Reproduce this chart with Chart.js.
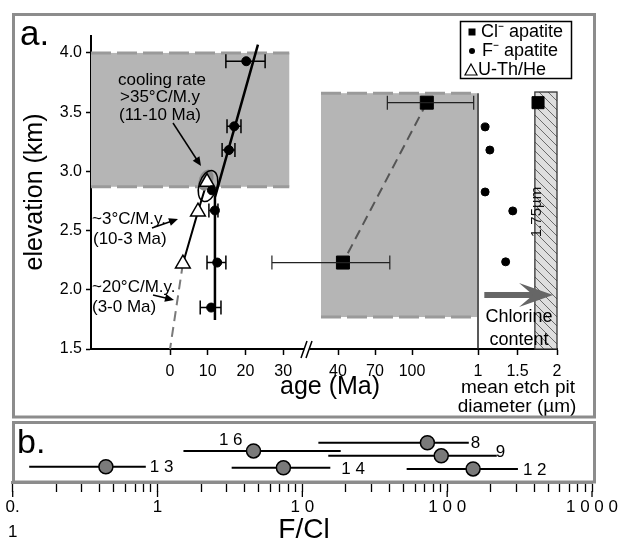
<!DOCTYPE html>
<html><head><meta charset="utf-8">
<script src="https://cdn.jsdelivr.net/npm/chart.js@4/dist/chart.umd.min.js"></script>
<style>
html,body{margin:0;padding:0;background:#fff;}
#wrap{position:relative;width:621px;height:539px;overflow:hidden;background:#fff;}
#ca{position:absolute;left:0;top:0;}
#cb{position:absolute;left:0;top:419px;}
</style></head>
<body><div id="wrap"><canvas id="ca" width="621" height="420"></canvas><canvas id="cb" width="621" height="120"></canvas></div>
<script>
// ================= DATA =================
// Panel a: tick values
const elevTicks    = [1.5, 2.0, 2.5, 3.0, 3.5, 4.0];
const ageTicksLow  = [0, 10, 20, 30];
const ageTicksHigh = [40, 70, 100];
const pitTicks     = [1, 1.5, 2];

// F- apatite fission-track ages (Ma) vs elevation (km)
const fAge   = [20.2, 17.0, 15.6, 11.1, 11.9, 12.5, 10.9];
const fElev  = [3.93, 3.38, 3.18, 2.84, 2.67, 2.23, 1.85];
const fAgeLo = [14.8, 15.1, 13.8, null, 10.3, 9.8, 8.0];
const fAgeHi = [25.2, 18.8, 17.2, null, 12.7, 14.8, 13.5];

// U-Th/He ages
const heAge  = [9.8, 7.4, 3.4];
const heElev = [2.91, 2.66, 2.22];

// Cl- apatite ages
const clAge   = [112, 44];
const clElev  = [3.58, 2.23];
const clAgeLo = [80, 27];
const clAgeHi = [150, 82];

// fitted / extrapolated lines
const fFitAge      = [23.3, 11.9, 11.9];
const fFitElev     = [4.07, 2.78, 1.745];
const heExtrapAge  = [3.4, 0];
const heExtrapElev = [2.22, 1.5];

// mean etch pit diameter (um)
const fPit      = [1.09, 1.15, 1.09, 1.44, 1.35];
const fPitElev  = [3.375, 3.18, 2.826, 2.666, 2.236];
const clPit     = [1.76];
const clPitElev = [3.58];

// shaded regions
const boxLowAge   = [-21, 31.6];
const boxLowElev  = [2.87, 4.0];
const boxHighAge  = [26.2, 152.7];
const boxHighElev = [1.77, 3.66];
const pitHatch     = [1.72, 2.0];
const pitHatchElev = [1.5, 3.67];

// Panel b: F/Cl ratios
const sampleId   = ['13', '16', '14', '8', '9', '12'];
const fclRatio   = [0.44, 4.6, 7.4, 73, 91, 151];
const fclLow     = [0.13, 1.51, 3.25, 12.9, 15.1, 52.5];
const fclHigh    = [0.83, 18.4, 15.6, 141, 220, 308];
const sampleLane = [0.28, 0.57, 0.26, 0.72, 0.48, 0.24];
const fclTicks   = [0.1,0.2,0.3,0.4,0.5,0.6,0.7,0.8,0.9,1,2,3,4,5,6,7,8,9,10,20,30,40,50,60,70,80,90,100,200,300,400,500,600,700,800,900,1000];
const fclLabels  = {0.1: ['0.', '1'], 1: '1', 10: '1 0', 100: '1 0 0', 1000: '1 0 0 0'};

// ================= SETUP =================
const FONT = "'Liberation Sans', Arial, Helvetica, sans-serif";
Chart.defaults.font.family = FONT;
Chart.defaults.color = '#000';
const f = (s) => s + 'px ' + FONT;
const pts = (xs, ys) => xs.map((x, i) => ({x: x, y: ys[i]}));
const setTicks = (list) => (scale) => { scale.ticks = list.map(v => ({value: v})); };

const axisLook = {
  grid: {display: true, drawOnChartArea: false, drawTicks: true, tickLength: 6, tickColor: '#000', tickWidth: 1.5},
  border: {display: true, color: '#000', width: 2}
};
function xAxis(weight, min, max, ticks, cb) {
  return Object.assign({
    type: 'linear', position: 'bottom', stack: 'age', stackWeight: weight, min: min, max: max,
    afterBuildTicks: setTicks(ticks),
    afterFit: (s) => { s.height = 71; },
    ticks: {font: {size: 16}, padding: 7, autoSkip: false, maxRotation: 0, callback: cb}
  }, axisLook);
}

function arrow(ctx, x0, y0, x1, y1) {
  const a = Math.atan2(y1 - y0, x1 - x0), L = 9, W = 4;
  ctx.beginPath(); ctx.moveTo(x0, y0); ctx.lineTo(x1 - L * Math.cos(a) * 0.6, y1 - L * Math.sin(a) * 0.6); ctx.stroke();
  ctx.beginPath();
  ctx.moveTo(x1, y1);
  ctx.lineTo(x1 - L * Math.cos(a) + W * Math.sin(a), y1 - L * Math.sin(a) - W * Math.cos(a));
  ctx.lineTo(x1 - L * Math.cos(a) - W * Math.sin(a), y1 - L * Math.sin(a) + W * Math.cos(a));
  ctx.closePath(); ctx.fill();
}
function errBar(ctx, xa, xb, y, cap) {
  ctx.beginPath();
  ctx.moveTo(xa, y); ctx.lineTo(xb, y);
  ctx.moveTo(xa, y - cap); ctx.lineTo(xa, y + cap);
  ctx.moveTo(xb, y - cap); ctx.lineTo(xb, y + cap);
  ctx.stroke();
}

const decorA = {
  id: 'decorA',
  beforeDatasetsDraw(chart) {
    const ctx = chart.ctx, s1 = chart.scales.x1, s2 = chart.scales.x2, s3 = chart.scales.x3, y = chart.scales.y;
    const ca = chart.chartArea;
    ctx.save();
    // shaded box, low-age section
    let L = Math.max(ca.left, s1.getPixelForValue(boxLowAge[0])), R = s1.getPixelForValue(boxLowAge[1]);
    let T = y.getPixelForValue(boxLowElev[1]), B = y.getPixelForValue(boxLowElev[0]);
    ctx.fillStyle = '#b5b5b5'; ctx.fillRect(L, T, R - L, B - T);
    ctx.strokeStyle = '#9a9a9a'; ctx.lineWidth = 3; ctx.setLineDash([20, 6]);
    ctx.beginPath(); ctx.moveTo(L, T); ctx.lineTo(R, T); ctx.moveTo(L, B); ctx.lineTo(R, B); ctx.stroke();
    // shaded box, high-age section
    L = s2.getPixelForValue(boxHighAge[0]); R = s2.getPixelForValue(boxHighAge[1]);
    T = y.getPixelForValue(boxHighElev[1]); B = y.getPixelForValue(boxHighElev[0]);
    ctx.fillStyle = '#b5b5b5'; ctx.fillRect(L, T, R - L, B - T);
    ctx.beginPath(); ctx.moveTo(L, T); ctx.lineTo(R, T); ctx.moveTo(L, B); ctx.lineTo(R, B); ctx.stroke();
    ctx.setLineDash([]);
    // etch-pit panel left line
    const pl = s3.getPixelForValue(1);
    ctx.strokeStyle = '#222'; ctx.lineWidth = 1.5;
    ctx.beginPath(); ctx.moveTo(pl, y.getPixelForValue(boxHighElev[1])); ctx.lineTo(pl, ca.bottom); ctx.stroke();
    // hatched 1.75 um region
    L = s3.getPixelForValue(pitHatch[0]); R = s3.getPixelForValue(pitHatch[1]);
    T = y.getPixelForValue(pitHatchElev[1]); B = y.getPixelForValue(pitHatchElev[0]);
    ctx.save();
    ctx.beginPath(); ctx.rect(L, T, R - L, B - T); ctx.clip();
    ctx.fillStyle = '#dedede'; ctx.fillRect(L, T, R - L, B - T);
    ctx.strokeStyle = '#6a6a6a'; ctx.lineWidth = 1;
    for (let yy = T - (R - L); yy < B; yy += 9) {
      ctx.beginPath(); ctx.moveTo(L, yy); ctx.lineTo(R, yy + (R - L)); ctx.stroke();
    }
    ctx.restore();
    ctx.strokeStyle = '#333'; ctx.lineWidth = 1.3; ctx.strokeRect(L, T, R - L, B - T);
    ctx.restore();
  },
  beforeDatasetDraw(chart, args) {
    if (args.index !== 1) return;
    const ctx = chart.ctx, s1 = chart.scales.x1, s2 = chart.scales.x2, y = chart.scales.y;
    const agePx = (v) => v <= s1.max ? s1.getPixelForValue(v) : s2.getPixelForValue(v);
    ctx.save();
    // ellipse around the 11-10 Ma cluster
    const ex = s1.getPixelForValue(heAge[0]), ey = y.getPixelForValue(heElev[0]);
    ctx.fillStyle = '#8a8a8a';
    ctx.beginPath(); ctx.ellipse(ex - 1, ey - 2, 7, 11, 0.35, 0, Math.PI * 2); ctx.fill();
    ctx.strokeStyle = '#000'; ctx.lineWidth = 1.5;
    ctx.beginPath(); ctx.ellipse(ex + 1, ey + 4, 9, 16, 0.3, 0, Math.PI * 2); ctx.stroke();
    // error bars
    ctx.lineWidth = 1.5; ctx.strokeStyle = '#000';
    fAge.forEach((a, i) => {
      if (fAgeLo[i] == null) return;
      errBar(ctx, agePx(fAgeLo[i]), agePx(fAgeHi[i]), y.getPixelForValue(fElev[i]), 7);
    });
    ctx.lineWidth = 1.2; ctx.strokeStyle = '#222';
    clAge.forEach((a, i) => {
      errBar(ctx, agePx(clAgeLo[i]), agePx(clAgeHi[i]), y.getPixelForValue(clElev[i]), 7);
    });
    ctx.restore();
  },
  afterDraw(chart) {
    const ctx = chart.ctx, s1 = chart.scales.x1, s3 = chart.scales.x3, y = chart.scales.y, ca = chart.chartArea;
    ctx.save();
    // axis break marks
    const bx = s1.right, by = ca.bottom;
    ctx.fillStyle = '#fff';
    ctx.beginPath(); ctx.moveTo(bx - 4, by + 4); ctx.lineTo(bx + 1, by + 4); ctx.lineTo(bx + 4, by - 4); ctx.lineTo(bx - 1, by - 4); ctx.closePath(); ctx.fill();
    ctx.strokeStyle = '#000'; ctx.lineWidth = 1.5;
    ctx.beginPath();
    ctx.moveTo(bx - 6, by + 9); ctx.lineTo(bx, by - 8);
    ctx.moveTo(bx - 1, by + 9); ctx.lineTo(bx + 5, by - 8);
    ctx.stroke();

    // panel label
    ctx.fillStyle = '#000'; ctx.textAlign = 'left'; ctx.textBaseline = 'alphabetic';
    ctx.font = f(35); ctx.fillText('a.', 20, 45);

    // annotations
    ctx.font = f(17); ctx.textBaseline = 'middle';
    ctx.fillText('cooling rate', 118, 80);
    ctx.fillText('>35°C/M.y', 120, 97);
    ctx.fillText('(11-10 Ma)', 119, 115);
    ctx.fillText('~3°C/M.y.', 92, 219);
    ctx.fillText('(10-3 Ma)', 93, 239);
    ctx.fillText('~20°C/M.y.', 92, 287);
    ctx.fillText('(3-0 Ma)', 92, 307);
    ctx.strokeStyle = '#000'; ctx.fillStyle = '#000'; ctx.lineWidth = 1.5;
    arrow(ctx, 173, 123, 201, 166);
    arrow(ctx, 152, 228, 178, 219);
    arrow(ctx, 153, 295, 174, 300);

    // axis titles
    ctx.textAlign = 'center'; ctx.textBaseline = 'middle';
    ctx.font = f(25); ctx.fillText('age (Ma)', 330, 387);
    ctx.font = f(19);
    ctx.fillText('mean etch pit', 518, 388);
    ctx.fillText('diameter (µm)', 517, 407);
    ctx.save(); ctx.translate(35, 192); ctx.rotate(-Math.PI / 2);
    ctx.font = f(25); ctx.fillText('elevation (km)', 0, 0); ctx.restore();

    // 1.75 um label
    ctx.save(); ctx.translate(537, 212); ctx.rotate(-Math.PI / 2);
    ctx.font = f(15); ctx.fillStyle = '#111'; ctx.fillText('1.75µm', 0, 0); ctx.restore();

    // chlorine content arrow
    const ay = y.getPixelForValue(1.956);
    const ax0 = s3.getPixelForValue(1.08), ax1 = s3.getPixelForValue(1.95);
    ctx.fillStyle = '#666';
    ctx.fillRect(ax0, ay - 3, (ax1 - 18) - ax0, 6);
    ctx.beginPath();
    ctx.moveTo(ax1 - 34, ay - 12); ctx.lineTo(ax1, ay); ctx.lineTo(ax1 - 34, ay + 12); ctx.lineTo(ax1 - 20, ay);
    ctx.closePath(); ctx.fill();
    ctx.fillStyle = '#000'; ctx.font = f(18);
    ctx.fillText('Chlorine', 519, 317);
    ctx.fillText('content', 519, 340);

    // legend
    ctx.strokeStyle = '#000'; ctx.lineWidth = 1.5;
    ctx.strokeRect(460.5, 21.5, 111, 57);
    ctx.fillStyle = '#000';
    ctx.fillRect(468.5, 28.5, 7, 7);
    ctx.beginPath(); ctx.arc(472, 51, 3, 0, Math.PI * 2); ctx.fill();
    ctx.lineWidth = 1.2;
    ctx.beginPath(); ctx.moveTo(471, 64); ctx.lineTo(477, 75); ctx.lineTo(465, 75); ctx.closePath(); ctx.stroke();
    ctx.textAlign = 'left'; ctx.font = f(18);
    ctx.fillText('Cl⁻ apatite', 481, 32);
    ctx.fillText('F⁻ apatite', 482, 51);
    ctx.fillText('U-Th/He', 478, 70);

    // frame
    ctx.strokeStyle = '#8c8c8c'; ctx.lineWidth = 3;
    ctx.strokeRect(13.5, 14.5, 581, 402.5);
    ctx.restore();
  }
};

new Chart(document.getElementById('ca'), {
  type: 'scatter',
  data: {
    datasets: [
      {label: 'F⁻ apatite', data: pts(fAge, fElev), xAxisID: 'x1', pointStyle: 'circle', pointRadius: 4.5,
       backgroundColor: '#000', borderColor: '#000', borderWidth: 1, order: 1},
      {label: 'U-Th/He', data: pts(heAge, heElev), xAxisID: 'x1', pointStyle: 'triangle', pointRadius: 8.5,
       backgroundColor: '#fff', borderColor: '#000', borderWidth: 1.5, order: 2},
      {label: 'Cl⁻ apatite', data: pts(clAge, clElev), xAxisID: 'x2', pointStyle: 'rect', pointRadius: 9.2,
       backgroundColor: '#000', borderColor: '#000', borderWidth: 1, order: 3},
      {label: 'F fit', data: pts(fFitAge, fFitElev), xAxisID: 'x1', showLine: true, pointRadius: 0,
       borderColor: '#000', borderWidth: 2.5, order: 5},
      {label: 'He fit', data: pts(heAge, heElev), xAxisID: 'x1', showLine: true, pointRadius: 0,
       borderColor: '#000', borderWidth: 2, order: 5},
      {label: 'He extrapolation', data: pts(heExtrapAge, heExtrapElev), xAxisID: 'x1', showLine: true, pointRadius: 0,
       borderColor: '#7a7a7a', borderWidth: 2, borderDash: [10, 6], order: 5},
      {label: 'Cl trend', data: pts(clAge, clElev), xAxisID: 'x2', showLine: true, pointRadius: 0,
       borderColor: '#555', borderWidth: 2, borderDash: [10, 6], order: 5},
      {label: 'F⁻ etch pit', data: pts(fPit, fPitElev), xAxisID: 'x3', pointStyle: 'circle', pointRadius: 4,
       backgroundColor: '#000', borderColor: '#000', order: 3},
      {label: 'Cl⁻ etch pit', data: pts(clPit, clPitElev), xAxisID: 'x3', pointStyle: 'rect', pointRadius: 8.5,
       backgroundColor: '#000', borderColor: '#000', order: 3}
    ]
  },
  options: {
    responsive: false, animation: false, events: [],
    layout: {padding: {top: 36, right: 64, left: 0, bottom: 0}},
    plugins: {legend: {display: false}, tooltip: {enabled: false}},
    scales: {
      x1: xAxis(216, -20.95, 36.3, ageTicksLow, (v) => String(v)),
      x2: xAxis(171, 14.86, 153.5, ageTicksHigh, (v) => String(v)),
      x3: xAxis(79, 1, 2, pitTicks, (v) => String(v)),
      y: Object.assign({
        type: 'linear', position: 'left', min: 1.5, max: 4.143,
        afterBuildTicks: setTicks(elevTicks),
        afterFit: (s) => { s.width = 91; },
        ticks: {font: {size: 16}, padding: 4, callback: (v) => Number(v).toFixed(1)}
      }, {grid: Object.assign({}, axisLook.grid, {tickLength: 5}), border: axisLook.border})
    }
  },
  plugins: [decorA]
});

// ================= PANEL b =================
const decorB = {
  id: 'decorB',
  beforeDatasetsDraw(chart) {
    const ctx = chart.ctx, x = chart.scales.x, y = chart.scales.y;
    ctx.save(); ctx.strokeStyle = '#000'; ctx.lineWidth = 2;
    fclRatio.forEach((v, i) => {
      const yy = y.getPixelForValue(sampleLane[i]);
      ctx.beginPath(); ctx.moveTo(x.getPixelForValue(fclLow[i]), yy); ctx.lineTo(x.getPixelForValue(fclHigh[i]), yy); ctx.stroke();
    });
    ctx.restore();
  },
  afterDraw(chart) {
    const ctx = chart.ctx, x = chart.scales.x, y = chart.scales.y, ca = chart.chartArea;
    ctx.save();
    // longer ticks at decades
    ctx.strokeStyle = '#000'; ctx.lineWidth = 1.3;
    [0.1, 1, 10, 100, 1000].forEach(v => {
      const px = x.getPixelForValue(v);
      ctx.beginPath(); ctx.moveTo(px, ca.bottom + 9); ctx.lineTo(px, ca.bottom + 15); ctx.stroke();
    });
    // sample labels
    ctx.fillStyle = '#000'; ctx.font = f(17); ctx.textBaseline = 'middle';
    sampleId.forEach((id, i) => {
      const txt = id.split('').join(' ');
      const yy = y.getPixelForValue(sampleLane[i]);
      if (id === '16') {
        ctx.textAlign = 'right';
        ctx.fillText(txt, x.getPixelForValue(fclRatio[i]) - 11, yy - 11);
      } else {
        ctx.textAlign = 'left';
        const gap = {'13': 4, '14': 11, '8': 2, '9': -1, '12': 5}[id];
        ctx.fillText(txt, x.getPixelForValue(fclHigh[i]) + gap, yy - (id === '9' ? 4 : -1));
      }
    });
    // panel label and axis title
    ctx.textAlign = 'left'; ctx.textBaseline = 'alphabetic';
    ctx.font = f(34); ctx.fillText('b.', 17, 34);
    ctx.textAlign = 'center'; ctx.font = f(28); ctx.fillText('F/Cl', 304, 119);
    // frame
    ctx.strokeStyle = '#8c8c8c'; ctx.lineWidth = 3;
    ctx.strokeRect(13.5, 3.5, 581, ca.bottom - 3.5);
    ctx.restore();
  }
};

new Chart(document.getElementById('cb'), {
  type: 'scatter',
  data: {
    datasets: [{
      label: 'F/Cl', data: pts(fclRatio, sampleLane), pointStyle: 'circle', pointRadius: 7,
      backgroundColor: '#7a7a7a', borderColor: '#000', borderWidth: 1.5
    }]
  },
  options: {
    responsive: false, animation: false, events: [],
    layout: {padding: {top: 3, right: 27, left: 12.7, bottom: 0}},
    plugins: {legend: {display: false}, tooltip: {enabled: false}},
    scales: {
      x: {
        type: 'logarithmic', position: 'bottom', min: 0.1, max: 1000,
        afterBuildTicks: setTicks(fclTicks),
        afterFit: (s) => { s.height = 57; },
        grid: {display: true, drawOnChartArea: false, drawTicks: true, tickLength: 10, tickColor: '#000', tickWidth: 1.3},
        border: {display: true, color: '#8c8c8c', width: 3},
        ticks: {
          autoSkip: false, maxRotation: 0, padding: 3,
          font: {size: 17, lineHeight: 1.45},
          callback: (v) => {
            const k = Object.keys(fclLabels).find(t => Math.abs(Number(t) - v) < 1e-9);
            return k !== undefined ? fclLabels[k] : '';
          }
        }
      },
      y: {type: 'linear', min: 0, max: 1, display: false}
    }
  },
  plugins: [decorB]
});
</script></body></html>
